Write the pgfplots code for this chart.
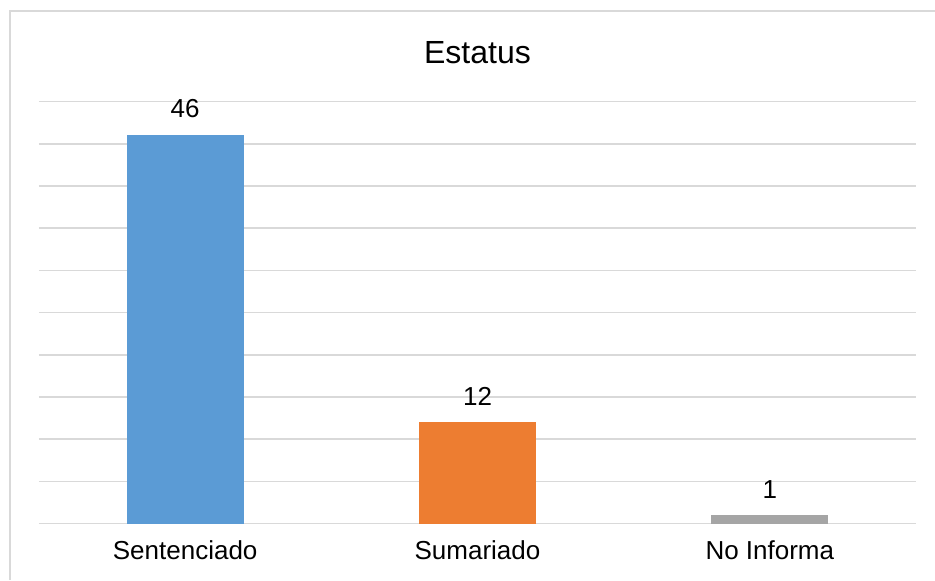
\documentclass[border=0pt]{standalone}
\usepackage{pgfplots}
\pgfplotsset{compat=1.18}
\usepackage{fontspec}
\setmainfont{Liberation Sans}
\definecolor{barBlue}{HTML}{5B9BD5}
\definecolor{barOrange}{HTML}{ED7D31}
\definecolor{barGray}{HTML}{A5A5A5}
\definecolor{gridGray}{HTML}{D9D9D9}

\begin{document}
\begin{tikzpicture}
  % page frame: 935x580 px at 0.5pt per px
  \path[use as bounding box] (0,0) rectangle (467.5pt,290pt);
  \draw[gridGray, line width=1pt] (5pt,0) -- (5pt,284.5pt) -- (467.5pt,284.5pt);
  \begin{axis}[
      at={(19.5pt,28.25pt)}, anchor=south west,
      scale only axis,
      width=438.5pt, height=211pt,
      ybar, bar width=58.5pt,
      xmin=-0.5, xmax=2.5,
      ymin=0, ymax=50,
      xtick={0,1,2},
      xticklabels={Sentenciado, Sumariado, No Informa},
      ytick={0,5,...,50},
      yticklabels={},
      major tick length=0pt,
      ymajorgrids,
      grid style={gridGray, line width=0.8pt},
      axis line style={draw=none},
      /pgf/number format/assume math mode=true,
      title={Estatus},
      title style={at={(0.5,1)}, anchor=center, yshift=18.25pt, font=\fontsize{16}{19}\selectfont},
      xticklabel style={font=\fontsize{13}{15}\selectfont, yshift=-5pt},
      nodes near coords,
      nodes near coords style={font=\fontsize{13}{15}\selectfont, black, yshift=5pt},
    ]
    \addplot[fill=barBlue, draw=none, bar shift=0pt] coordinates {(0,46)};
    \addplot[fill=barOrange, draw=none, bar shift=0pt] coordinates {(1,12)};
    \addplot[fill=barGray, draw=none, bar shift=0pt] coordinates {(2,1)};
  \end{axis}
\end{tikzpicture}
\end{document}
